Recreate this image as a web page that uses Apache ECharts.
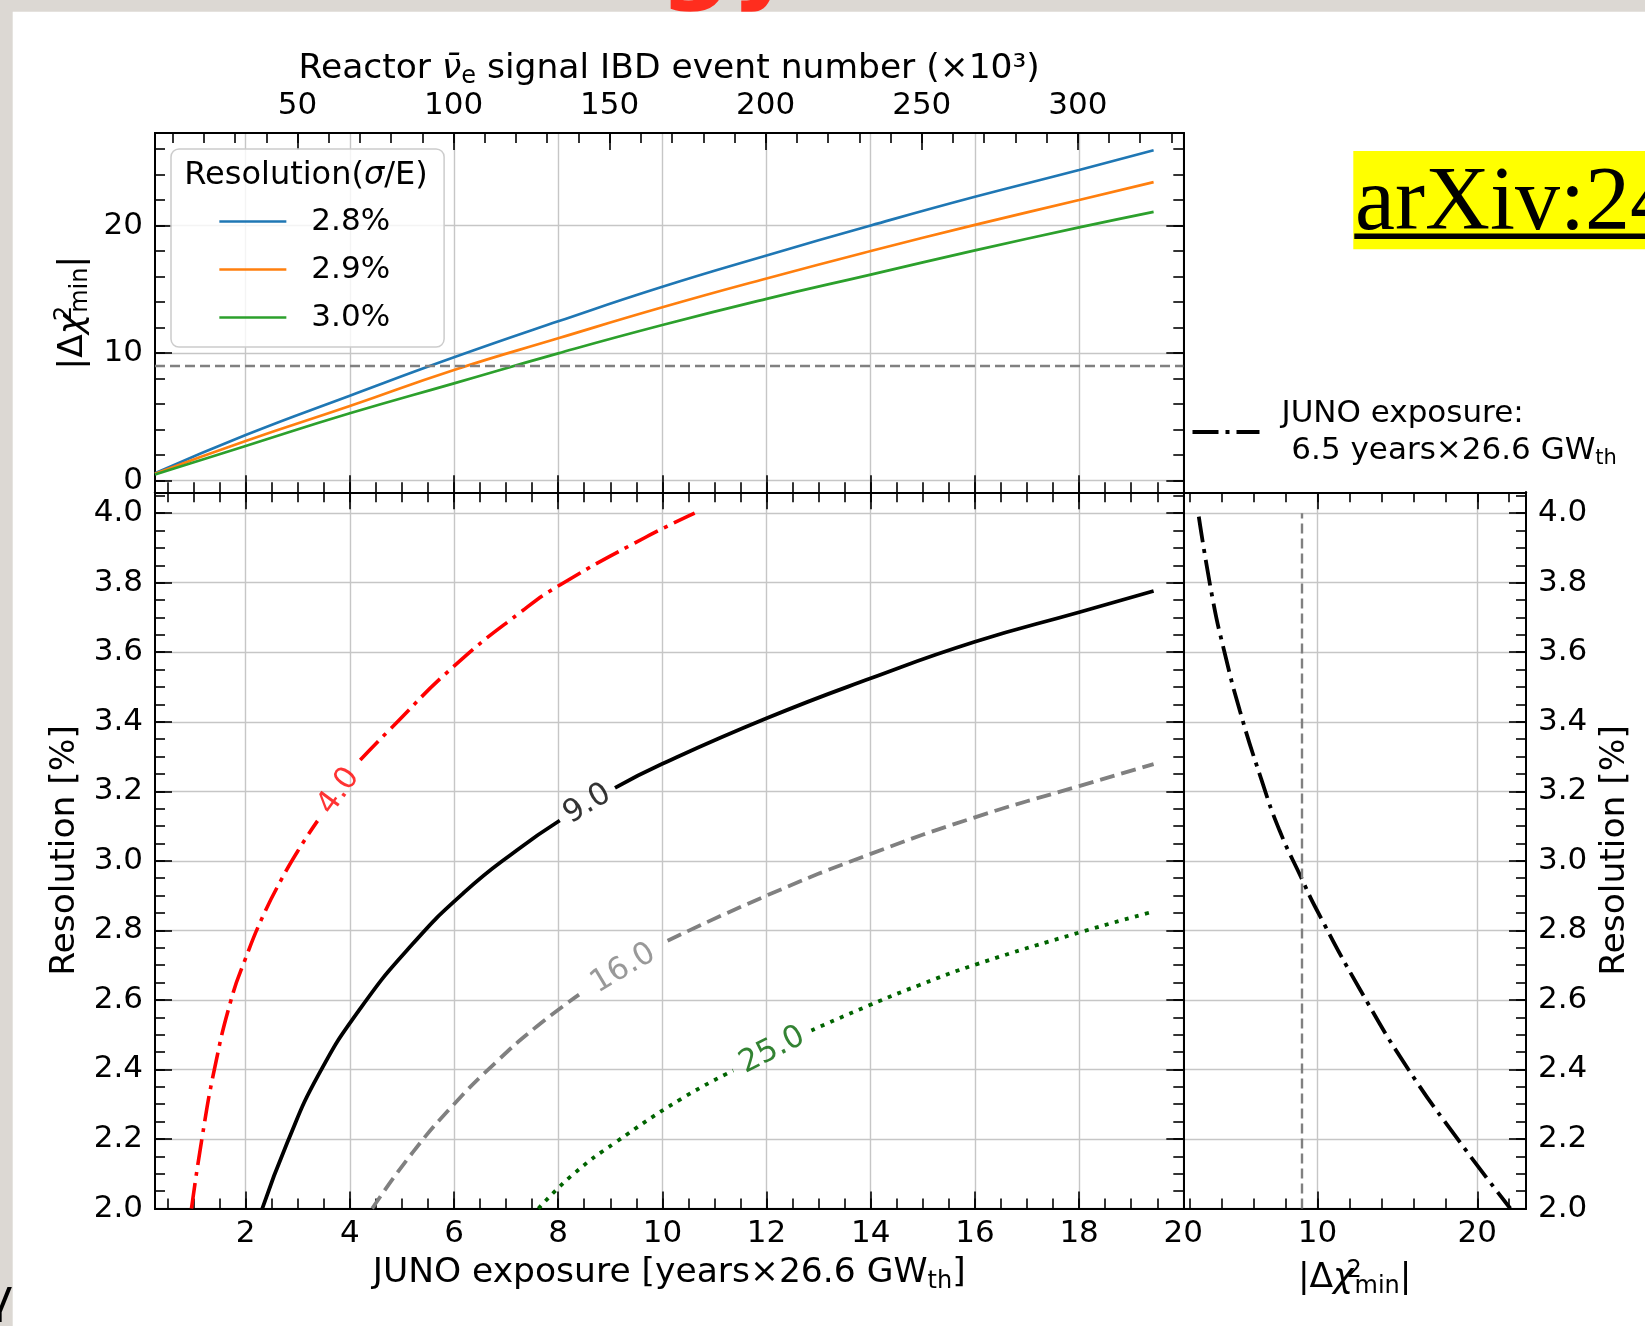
<!DOCTYPE html>
<html>
<head>
<meta charset="utf-8">
<script src="https://cdn.jsdelivr.net/npm/echarts@6/dist/echarts.min.js"></script>
<style>
  html, body { margin: 0; padding: 0; background: #dcd8d3; }
  #chart { width: 1645px; height: 1326px; }
</style>
</head>
<body>
<div id="chart"></div>
<script>
// ---- Sensitivity vs exposure for three energy resolutions (upper panel) ----
const exposureTop = [0.26, 2, 4, 6, 8, 10, 12, 14, 16, 18, 19.43];
const chi2Res28 = [0.58, 3.58, 6.66, 9.67, 12.49, 15.2, 17.65, 20.0, 22.25, 24.35, 25.9];
const chi2Res29 = [0.55, 3.11, 5.85, 8.68, 11.16, 13.59, 15.85, 18.0, 20.05, 22.0, 23.4];
const chi2Res30 = [0.48, 2.72, 5.28, 7.63, 9.98, 12.2, 14.25, 16.15, 18.05, 19.85, 21.07];
const resolutionNames = ['2.8%', '2.9%', '3.0%'];

// ---- |Δχ²min| contours in the (exposure, resolution) plane ----
// points are [exposure, resolution %]; null leaves room for the inline level label
const contourLevels = [4.0, 9.0, 16.0, 25.0];
const contour4 = [[0.96, 2.0], [1.16, 2.2], [1.40, 2.4], [1.72, 2.6], [2.0, 2.72], [2.33, 2.84], [2.7, 2.95],
  [3.05, 3.04], [3.38, 3.115], null, [4.2, 3.29], [4.75, 3.375], [6.0, 3.56], [7.32, 3.72], [8.05, 3.795],
  [9.67, 3.93], [10.62, 4.0]];
const contour9 = [[2.32, 2.0], [2.8, 2.19], [3.4, 2.385], [4.2, 2.575], [5.2, 2.76], [6.2, 2.91], [7.2, 3.03],
  [8.03, 3.116], null, [9.09, 3.21], [10.0, 3.279], [12.0, 3.41], [14.0, 3.525], [16.0, 3.63], [18.0, 3.715],
  [19.43, 3.776]];
const contour16 = [[4.43, 2.0], [5.2, 2.16], [6.0, 2.3], [6.8, 2.42], [7.6, 2.525], [8.4, 2.615], null,
  [10.1, 2.77], [12.0, 2.9], [14.0, 3.02], [16.0, 3.125], [18.0, 3.215], [19.43, 3.278]];
const contour25 = [[7.62, 2.0], [8.3, 2.1], [9.1, 2.19], [10.37, 2.316], [11.36, 2.397], null,
  [12.86, 2.512], [13.98, 2.585], [14.94, 2.643], [16.04, 2.703], [18.03, 2.795], [19.4, 2.853]];
const contourLabelAt = [[3.79, 3.2], [8.56, 3.163], [9.25, 2.69], [12.11, 2.455]];

// ---- |Δχ²min| vs resolution for 6.5 years × 26.6 GW_th (side panel) ----
const junoChi2 = [2.57, 3.45, 4.18, 5.15, 6.48, 7.6, 9.0, 9.94, 12.66, 15.69, 18.93, 22.07];
const junoRes = [3.99, 3.75, 3.6, 3.43, 3.235, 3.09, 2.95, 2.86, 2.63, 2.40, 2.19, 2.0];

const THRESHOLD = 9;   // 3σ reference line

// ---- tick labels ----
const expTicks = [2, 4, 6, 8, 10, 12, 14, 16, 18, 20];
const resTicks = [2.0, 2.2, 2.4, 2.6, 2.8, 3.0, 3.2, 3.4, 3.6, 3.8, 4.0];
const chiTopTicks = [0, 10, 20];
const chiSideTicks = [10, 20];
const eventTicks = [50, 100, 150, 200, 250, 300];
const EVENTS_PER_EXPOSURE = 16.69;   // ×10³ IBD events per year×26.6 GW_th

// ---- axis extents ----
const EXP_RANGE = [0.26, 20.0];
const EV_RANGE = [EXP_RANGE[0] * EVENTS_PER_EXPOSURE, EXP_RANGE[1] * EVENTS_PER_EXPOSURE];
const RES_RANGE = [2.0, 4.06];
const CHI_TOP_RANGE = [-0.91, 27.25];
const CHI_SIDE_RANGE = [1.6, 23.05];

function ticksBetween(lo, hi, step) {
  const out = [];
  for (let k = Math.ceil(lo / step - 1e-9); k * step <= hi + 1e-9; k++) out.push(+(k * step).toFixed(6));
  return out;
}
const expMinor = ticksBetween(EXP_RANGE[0], EXP_RANGE[1], 0.5);
const evMinor = ticksBetween(EV_RANGE[0], EV_RANGE[1], 10);
const resMinor = ticksBetween(RES_RANGE[0], RES_RANGE[1], 0.05);
const chiTopMinor = ticksBetween(CHI_TOP_RANGE[0], CHI_TOP_RANGE[1], 2);
const chiSideMinor = ticksBetween(CHI_SIDE_RANGE[0], CHI_SIDE_RANGE[1], 2);

// ---- styling ----
const FONT = '"DejaVu Sans", sans-serif';
const FS = 31;        // tick labels, legends, contour labels
const FN = 34.5;      // axis titles
const rich = {
  n: { fontSize: FN, fontFamily: FONT, color: '#000', lineHeight: 40 },
  i: { fontSize: FN, fontFamily: FONT, fontStyle: 'italic', color: '#000', lineHeight: 40 },
  s: { fontSize: 24, fontFamily: FONT, color: '#000', verticalAlign: 'bottom', lineHeight: 23 },
  p: { fontSize: 24, fontFamily: FONT, color: '#000', verticalAlign: 'top', lineHeight: 23, width: 1 },
  ln: { fontSize: 32, fontFamily: FONT, color: '#000', lineHeight: 36 },
  li: { fontSize: 32, fontFamily: FONT, fontStyle: 'italic', color: '#000', lineHeight: 36 }
};
const CHI2_NAME = '{n||Δ}{i|χ}{p|2}{s|min}{n||}';
const EXPOSURE_NAME = '{n|JUNO exposure [years×26.6 GW}{s|th}{n|]}';
const EVENTS_NAME = '{n|Reactor }{i|ν\u0304}{s|e}{n| signal IBD event number (×10³)}';
const RES_NAME = '{n|Resolution [%]}';
const GRIDLINE = { show: true, lineStyle: { color: '#c6c6c6', width: 1.4 } };
const MAJOR = 17, MINOR = 10;

function axis(gridIndex, position, range, ticks, len, extra) {
  return Object.assign({
    type: 'value', gridIndex, position, min: range[0], max: range[1],
    axisLine: { show: true, onZero: false, lineStyle: { color: '#000', width: 2 } },
    axisTick: { show: true, inside: true, length: len, customValues: ticks, lineStyle: { color: '#000', width: 1.6 } },
    axisLabel: { show: false },
    splitLine: { show: false },
    minorTick: { show: false },
    axisPointer: { show: false },
    silent: true
  }, extra || {});
}
function labels(ticks, fmt, margin) {
  return { show: true, customValues: ticks, formatter: fmt, margin, fontSize: FS, fontFamily: FONT, color: '#000' };
}
function axisName(text, gap, rotate) {
  const o = { name: text, nameLocation: 'middle', nameGap: gap, nameTextStyle: { rich } };
  if (rotate !== undefined) o.nameRotate = rotate;
  return o;
}
const fmtInt = v => String(v);
const fmtRes = v => Number(v).toFixed(1);

const xAxes = [], yAxes = [];
const addX = a => xAxes.push(a) - 1;
const addY = a => yAxes.push(a) - 1;

// upper panel (grid 0)
const topX = addX(axis(0, 'bottom', EXP_RANGE, expTicks, MAJOR, { splitLine: GRIDLINE }));
addX(axis(0, 'bottom', EXP_RANGE, expMinor, MINOR));
addX(axis(0, 'top', EV_RANGE, eventTicks, MAJOR,
  Object.assign({ axisLabel: labels(eventTicks, fmtInt, 12) }, axisName(EVENTS_NAME, 38))));
addX(axis(0, 'top', EV_RANGE, evMinor, MINOR));
const topY = addY(axis(0, 'left', CHI_TOP_RANGE, chiTopTicks, MAJOR,
  Object.assign({ splitLine: GRIDLINE, axisLabel: labels(chiTopTicks, fmtInt, 12) }, axisName(CHI2_NAME, 61, 90))));
addY(axis(0, 'left', CHI_TOP_RANGE, chiTopMinor, MINOR));
addY(axis(0, 'right', CHI_TOP_RANGE, chiTopTicks, MAJOR));
addY(axis(0, 'right', CHI_TOP_RANGE, chiTopMinor, MINOR));

// main panel (grid 1)
const mainX = addX(axis(1, 'bottom', EXP_RANGE, expTicks, MAJOR,
  Object.assign({ splitLine: GRIDLINE, axisLabel: labels(expTicks, fmtInt, 10) }, axisName(EXPOSURE_NAME, 45))));
addX(axis(1, 'bottom', EXP_RANGE, expMinor, MINOR));
addX(axis(1, 'top', EXP_RANGE, expTicks, MAJOR));
addX(axis(1, 'top', EXP_RANGE, expMinor, MINOR));
const mainY = addY(axis(1, 'left', RES_RANGE, resTicks, MAJOR,
  Object.assign({ splitLine: GRIDLINE, axisLabel: labels(resTicks, fmtRes, 12) }, axisName(RES_NAME, 68, 90))));
addY(axis(1, 'left', RES_RANGE, resMinor, MINOR));
addY(axis(1, 'right', RES_RANGE, resTicks, MAJOR));
addY(axis(1, 'right', RES_RANGE, resMinor, MINOR));

// side panel (grid 2); its left edge is the main panel's right frame
const sideX = addX(axis(2, 'bottom', CHI_SIDE_RANGE, chiSideTicks, MAJOR,
  Object.assign({ splitLine: GRIDLINE, axisLabel: labels(chiSideTicks, fmtInt, 10) }, axisName(CHI2_NAME, 50))));
addX(axis(2, 'bottom', CHI_SIDE_RANGE, chiSideMinor, MINOR));
addX(axis(2, 'top', CHI_SIDE_RANGE, chiSideTicks, MAJOR));
addX(axis(2, 'top', CHI_SIDE_RANGE, chiSideMinor, MINOR));
const sideY = addY(axis(2, 'right', RES_RANGE, resTicks, MAJOR,
  Object.assign({ splitLine: GRIDLINE, axisLabel: labels(resTicks, fmtRes, 12) }, axisName(RES_NAME, 69, 90))));
addY(axis(2, 'right', RES_RANGE, resMinor, MINOR));

// ---- series ----
const series = [];
const resColors = ['#1f77b4', '#ff7f0e', '#2ca02c'];
[chi2Res28, chi2Res29, chi2Res30].forEach((vals, i) => {
  const s = {
    type: 'line', name: resolutionNames[i], xAxisIndex: topX, yAxisIndex: topY,
    data: exposureTop.map((x, j) => [x, vals[j]]),
    symbol: 'none', smooth: 0.5, silent: true, z: 3,
    lineStyle: { color: resColors[i], width: 2.7 }, itemStyle: { color: resColors[i] }
  };
  if (i === 0) {
    s.markLine = {
      silent: true, symbol: 'none', label: { show: false }, animation: false,
      lineStyle: { color: '#808080', type: [10, 5], width: 2.4 },
      data: [{ yAxis: THRESHOLD }]
    };
  }
  series.push(s);
});

const contourStyles = [
  { color: '#ff0000', width: 3.6, type: [26, 7, 4, 7] },
  { color: '#000000', width: 3.8, type: 'solid' },
  { color: '#808080', width: 3.8, type: [15, 7] },
  { color: '#006400', width: 3.8, type: [4, 6.4] }
];
const labelAngles = [54, 31, 31, 27];
[contour4, contour9, contour16, contour25].forEach((pts, i) => {
  series.push({
    type: 'line', name: 'level ' + contourLevels[i], xAxisIndex: mainX, yAxisIndex: mainY,
    data: pts.map(p => p === null ? ['-', '-'] : p),
    symbol: 'none', smooth: 0.5, connectNulls: false, silent: true, z: 3,
    lineStyle: Object.assign({ cap: 'butt' }, contourStyles[i])
  });
});
series.push({
  type: 'scatter', name: 'levels', xAxisIndex: mainX, yAxisIndex: mainY, silent: true, z: 4,
  symbolSize: 1, itemStyle: { color: 'rgba(0,0,0,0)' },
  data: contourLabelAt.map((p, i) => ({
    value: p,
    label: {
      show: true, position: 'inside', rotate: labelAngles[i], formatter: contourLevels[i].toFixed(1),
      color: contourStyles[i].color, fontSize: FS, fontFamily: FONT
    }
  }))
});
series.push({
  type: 'line', name: 'JUNO exposure', xAxisIndex: sideX, yAxisIndex: sideY,
  data: junoChi2.map((c, j) => [c, junoRes[j]]),
  symbol: 'none', smooth: 0.5, silent: true, z: 3,
  lineStyle: { color: '#000', width: 3.8, type: [26, 7, 4, 7], cap: 'butt' }, itemStyle: { color: '#000' },
  markLine: {
    silent: true, symbol: 'none', label: { show: false }, animation: false,
    lineStyle: { color: '#808080', type: [10, 5], width: 2.4 },
    data: [[{ coord: [THRESHOLD, resTicks[0]] }, { coord: [THRESHOLD, resTicks[resTicks.length - 1]] }]]
  }
});

const option = {
  animation: false,
  backgroundColor: '#dcd8d3',
  textStyle: { fontFamily: FONT },
  grid: [
    { left: 155, top: 133, width: 1028.3, height: 359.3, containLabel: false, outerBoundsMode: 'none' },
    { left: 155, top: 492.3, width: 1028.3, height: 716.2, containLabel: false, outerBoundsMode: 'none' },
    { left: 1183.3, top: 492.3, width: 342.7, height: 716.2, containLabel: false, outerBoundsMode: 'none' }
  ],
  xAxis: xAxes,
  yAxis: yAxes,
  legend: [
    {
      data: resolutionNames, orient: 'vertical', left: 171, top: 149,
      padding: [57, 54, 14, 47], itemGap: 17, itemWidth: 67, itemHeight: 20, selectedMode: false,
      backgroundColor: 'rgba(255,255,255,0.8)', borderColor: '#cccccc', borderWidth: 1.5, borderRadius: 8,
      itemStyle: { opacity: 0 },
      lineStyle: { width: 2.7 },
      textStyle: { fontSize: FS, fontFamily: FONT, color: '#000', lineHeight: 30, padding: [0, 0, 0, 20] }
    },
    {
      data: ['JUNO exposure'], left: 1190.6, top: 398, padding: 0, itemWidth: 67, itemHeight: 22,
      selectedMode: false, itemStyle: { opacity: 0 },
      lineStyle: { width: 3.8 },
      formatter: () => '{n|JUNO exposure:}\n{n| 6.5 years×26.6 GW}{s|th}',
      textStyle: {
        padding: [0, 0, 0, 17],
        rich: {
          n: { fontSize: FS, fontFamily: FONT, color: '#000', lineHeight: 37 },
          s: { fontSize: 21, fontFamily: FONT, color: '#000', verticalAlign: 'bottom', lineHeight: 22 }
        }
      }
    }
  ],
  graphic: [
    { type: 'text', z: -20, silent: true,
      style: { text: 'gy', x: 728, y: 14, align: 'center', verticalAlign: 'bottom',
        font: 'bold 100px "DejaVu Sans"', fill: '#ff2d1e' } },
    { type: 'rect', z: -10, silent: true, shape: { x: 12.7, y: 11.7, width: 1700, height: 1400 }, style: { fill: '#ffffff' } },
    { type: 'text', z: -5, silent: true,
      style: { text: 'γ', x: -14, y: 1300, verticalAlign: 'middle', font: '46px "DejaVu Sans"', fill: '#000' } },
    { type: 'text', z: 10, silent: true,
      style: { text: '{ln|Resolution(}{li|σ}{ln|/E)}', x: 306, y: 176, align: 'center', verticalAlign: 'middle', rich } },
    { type: 'rect', z: 9, silent: true, shape: { x: 1353.3, y: 151, width: 300, height: 98.3 }, style: { fill: '#ffff00' } },
    { type: 'text', z: 10, silent: true,
      style: { text: 'arXiv:24', x: 1355, y: 205.5, verticalAlign: 'middle', font: '90px "Liberation Serif"', fill: '#000' } },
    { type: 'rect', z: 10, silent: true, shape: { x: 1354.3, y: 233.5, width: 300, height: 5.5 }, style: { fill: '#000' } }
  ],
  series
};

const chart = echarts.init(document.getElementById('chart'), null, { renderer: 'canvas' });
chart.setOption(option);
</script>
</body>
</html>
